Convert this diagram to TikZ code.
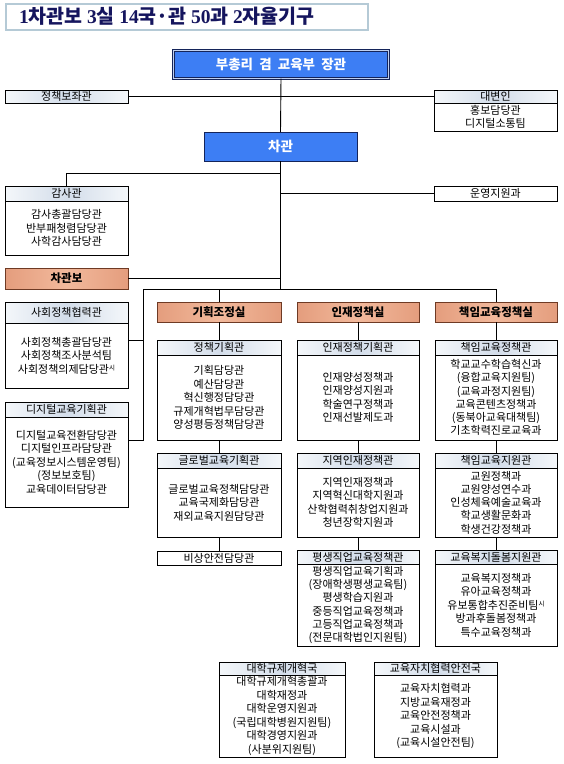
\documentclass[tikz,border=0pt]{standalone}
\usepackage{fontspec}
\setmainfont{Noto Sans CJK KR}
\newfontfamily\tnum{Liberation Serif}
\definecolor{titlenavy}{HTML}{15155E}
\definecolor{titlebd}{HTML}{B5CAD6}
\definecolor{hdrmid}{HTML}{D3DDEA}
\definecolor{hdrside}{HTML}{F4F7FA}
\definecolor{salmid}{HTML}{F2B99C}
\definecolor{salside}{HTML}{E49D7D}
\definecolor{salbd}{HTML}{6E3A24}
\definecolor{blueone}{HTML}{3D7EF4}
\definecolor{bluebd}{HTML}{14245A}
\definecolor{bluegap}{HTML}{BFD0F0}
\newcommand\sisup{\raisebox{3pt}{\fontsize{6.5}{6.5}\selectfont 시}}
\newcommand\orgunit[9]{%
  \node[hdr, minimum width=#4pt, minimum height=#5pt, anchor=north west] (#1-h) at (#2,#3) {#7};
  \node[bodybox, minimum width=#4pt, minimum height=#6pt, anchor=north west, #9] (#1) at (#1-h.south west) {#8};
}
\tikzset{
  box/.style={draw=black, line width=0.8pt, inner sep=1pt, outer sep=0pt, align=center},
  hdr/.style={box, left color=hdrside, right color=hdrside, middle color=hdrmid},
  bodybox/.style={box, fill=white},
  plainbox/.style={box, fill=white},
  salbox/.style={box, draw=salbd, left color=salside, right color=salside, middle color=salmid, font=\fontsize{11.5}{13}\selectfont\bfseries},
  bluebox/.style={draw=bluebd, fill=blueone, text=white, line width=1pt, outer sep=0pt, font=\fontsize{13.5}{15}\selectfont\bfseries},
  conn/.style={draw=black, line width=0.9pt},
}
\begin{document}
\begin{tikzpicture}[x=1pt,y=-1pt,font=\fontsize{11}{13.5}\selectfont]
\useasboundingbox[fill=white] (0,0) rectangle (563,764);
% title
\node[draw=titlebd, line width=1.5pt, minimum width=362pt, minimum height=26pt, anchor=north west] (tbox) at (5,3) {};
\node[anchor=west, text=titlenavy, font=\fontsize{19.5}{21}\selectfont\bfseries, inner sep=0pt] (title) at (19,16)
  {{\tnum 1}차관보 {\tnum 3}실 {\tnum 14}국·관 {\tnum 50}과 {\tnum 2}자율기구};
% top level
\node[bluebox, double=bluegap, double distance=1.6pt, line width=0.8pt, minimum width=215pt, minimum height=28pt, anchor=north west] (m) at (173.5,50.5) {부총리 \ 겸 \ 교육부 \ 장관};
\node[hdr, minimum width=123pt, minimum height=13pt, anchor=north west] (pa) at (5,90) {정책보좌관};
\orgunit{sp}{434}{90}{123}{13}{28}{대변인}{홍보담당관\\디지털소통팀}{}
\node[bluebox, minimum width=153pt, minimum height=29pt, anchor=north west] (v) at (204,132) {차관};
\orgunit{au}{5}{186}{123}{15}{54}{감사관}{감사총괄담당관\\반부패청렴담당관\\사학감사담당관}{}
\node[plainbox, minimum width=123pt, minimum height=15pt, anchor=north west] (os) at (434,186) {운영지원과};
\node[salbox, minimum width=123pt, minimum height=21pt, anchor=north west] (vb) at (5,268) {차관보};
% left column
\orgunit{sc}{5}{302}{123}{21}{65}{사회정책협력관}{사회정책총괄담당관\\사회정책조사분석팀\\사회정책의제담당관\sisup}{}
\orgunit{dg}{5}{402}{123}{15}{90}{디지털교육기획관}{디지털교육전환담당관\\디지털인프라담당관\\(교육정보시스템운영팀)\\(정보보호팀)\\교육데이터담당관}{}
% offices
\node[salbox, minimum width=124pt, minimum height=20pt, anchor=north west] (pc) at (157,302) {기획조정실};
\node[salbox, minimum width=122pt, minimum height=20pt, anchor=north west] (hr) at (297,302) {인재정책실};
\node[salbox, minimum width=122pt, minimum height=20pt, anchor=north west] (rp) at (435,302) {책임교육정책실};
% planning column
\orgunit{pp}{157}{340}{124}{15}{85}{정책기획관}{기획담당관\\예산담당관\\혁신행정담당관\\규제개혁법무담당관\\양성평등정책담당관}{}
\orgunit{gl}{157}{453}{124}{15}{69}{글로벌교육기획관}{글로벌교육정책담당관\\교육국제화담당관\\재외교육지원담당관}{}
\node[plainbox, minimum width=124pt, minimum height=14pt, anchor=north west] (em) at (157,551) {비상안전담당관};
% talent column
\orgunit{hp}{297}{340}{122}{15}{85}{인재정책기획관}{인재양성정책과\\인재양성지원과\\학술연구정책과\\인재선발제도과}{}
\orgunit{rh}{297}{453}{122}{15}{69}{지역인재정책관}{지역인재정책과\\지역혁신대학지원과\\산학협력취창업지원과\\청년장학지원과}{}
\orgunit{lf}{297}{550}{122}{14}{82}{평생직업교육정책관}{평생직업교육기획과\\(장애학생평생교육팀)\\평생학습지원과\\중등직업교육정책과\\고등직업교육정책과\\(전문대학법인지원팀)}{font=\fontsize{11}{13.2}\selectfont}
% responsibility column
\orgunit{ce}{435}{340}{122}{15}{85}{책임교육정책관}{학교교수학습혁신과\\(융합교육지원팀)\\(교육과정지원팀)\\교육콘텐츠정책과\\(동북아교육대책팀)\\기초학력진로교육과}{font=\fontsize{11}{13.3}\selectfont}
\orgunit{cs}{435}{453}{122}{15}{69}{책임교육지원관}{교원정책과\\교원양성연수과\\인성체육예술교육과\\학교생활문화과\\학생건강정책과}{font=\fontsize{11}{13.2}\selectfont}
\orgunit{cw}{435}{550}{122}{14}{82}{교육복지돌봄지원관}{교육복지정책과\\유아교육정책과\\유보통합추진준비팀\sisup\\방과후돌봄정책과\\특수교육정책과}{}
% bureaus
\orgunit{ur}{219}{662}{126}{13}{82}{대학규제개혁국}{대학규제개혁총괄과\\대학재정과\\대학운영지원과\\(국립대학병원지원팀)\\대학경영지원과\\(사분위지원팀)}{}
\orgunit{ea}{374}{662}{123}{13}{82}{교육자치협력안전국}{교육자치협력과\\지방교육재정과\\교육안전정책과\\교육시설과\\(교육시설안전팀)}{}
% connector coordinates
\coordinate (ta) at (280.5,173);
\coordinate (jn) at (280.5,289);
\coordinate (bl) at (143,289);
\coordinate (br) at (496,289);
\coordinate (bsc) at (143,340);
\coordinate (bdg) at (143,440);
% connectors
\draw[conn] (m.south) -- (v.north);
\draw[conn] (pa.east) -- (sp-h.west);
\draw[conn] (v.south) -- (jn);
\draw[conn] (ta) -| (au-h.north);
\draw[conn] (os.west -| v.south) -- (os.west);
\draw[conn] (vb.east) -- (vb.east -| v.south);
\draw[conn] (bl) -- (br);
\draw[conn] (bl) -- (bdg) -- (bdg -| dg.east);
\draw[conn] (bsc) -- (bsc -| sc.east);
\draw[conn] (bl -| pc.north) -- (pc.north);
\draw[conn] (br) -- (rp.north);
\draw[conn] (pc.south) -- (pp-h.north);
\draw[conn] (pp.south) -- (gl-h.north);
\draw[conn] (gl.south) -- (em.north);
\draw[conn] (hr.south) -- (hp-h.north);
\draw[conn] (hp.south) -- (rh-h.north);
\draw[conn] (rh.south) -- (lf-h.north);
\draw[conn] (rp.south) -- (ce-h.north);
\draw[conn] (ce.south) -- (cs-h.north);
\draw[conn] (cs.south) -- (cw-h.north);
\end{tikzpicture}
\end{document}
